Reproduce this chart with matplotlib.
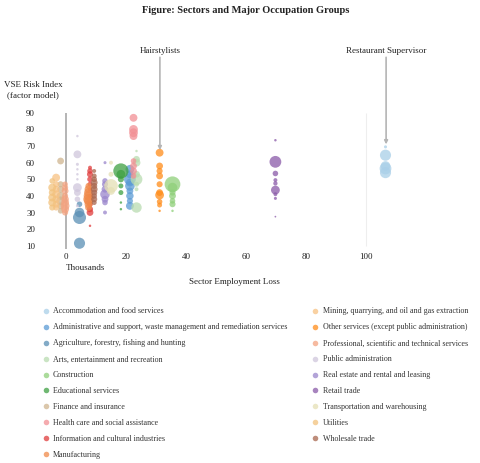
import matplotlib
matplotlib.use("Agg")
import matplotlib.pyplot as plt
from matplotlib.lines import Line2D

plt.rcParams['font.family'] = ['Liberation Serif', 'DejaVu Serif']

# sector names, colours and employment loss (thousands)
sectors = [
    "Accommodation and food services",
    "Administrative and support, waste management and remediation services",
    "Agriculture, forestry, fishing and hunting",
    "Arts, entertainment and recreation",
    "Construction",
    "Educational services",
    "Finance and insurance",
    "Health care and social assistance",
    "Information and cultural industries",
    "Manufacturing",
    "Mining, quarrying, and oil and gas extraction",
    "Other services (except public administration)",
    "Professional, scientific and technical services",
    "Public administration",
    "Real estate and rental and leasing",
    "Retail trade",
    "Transportation and warehousing",
    "Utilities",
    "Wholesale trade",
]
colors = [
    "#a9cfe8", "#5b9bd5", "#5a8fb5", "#b9dcb0", "#8fd07a", "#3fa043",
    "#cfb58f", "#f28f94", "#e03c3c", "#f08a4a", "#f7c283", "#ff8c1a",
    "#f3a381", "#cfc6dc", "#9a86cc", "#8a5aa8", "#e5e0b5", "#f2c27d",
    "#a8674f",
]
sector_loss = [106.5, 21.3, 4.5, 23.5, 35.5, 18.3, -1.8, 22.5, 8.0, 7.5,
               -3.3, 31.2, -0.3, 3.8, 13.0, 69.8, 15.0, -4.6, 9.4]

# occupation groups: VSE risk index and employment (bubble size) per sector
risk = [
    [69.5, 64.5, 58, 56.5, 54],
    [56, 53, 50, 48, 46, 43, 40, 37, 34],
    [35, 30, 27, 11.5],
    [67, 62, 60, 53, 50, 47, 44, 33],
    [47, 45, 42, 40, 37, 35, 31],
    [55, 53, 50, 46, 42, 36, 32],
    [61, 47, 44, 40, 37, 34, 31],
    [87, 80, 78, 76, 61, 58, 55, 52],
    [57, 55, 53, 50, 47, 44, 40, 35, 32, 30, 22],
    [46, 44, 42, 40, 38, 37, 35, 33],
    [51, 47, 44, 41, 38, 35, 33],
    [66, 58, 55, 52, 47, 42, 40.5, 36.5, 34.5, 31],
    [47, 45, 43, 40, 38, 36, 34, 32, 30],
    [76, 65, 59, 56, 53, 50, 45, 42, 38, 34],
    [60, 49, 47, 44, 41, 38, 36, 30],
    [73.5, 60.5, 53.5, 49.5, 47.5, 43.5, 41, 38.5, 27.5],
    [60, 53, 46, 43],
    [49, 45, 42, 39, 36, 33],
    [55, 52, 50, 48, 46, 44, 42, 40, 38, 36],
]
employment = [
    [3, 40, 30, 45, 40],
    [25, 20, 45, 20, 30, 15, 18, 12, 20],
    [10, 30, 55, 40],
    [2, 15, 20, 15, 45, 8, 5, 35],
    [80, 30, 12, 15, 10, 12, 2],
    [75, 25, 12, 8, 8, 2, 2],
    [15, 12, 15, 20, 25, 15, 10],
    [20, 25, 25, 20, 10, 15, 15, 10],
    [5, 10, 12, 10, 8, 6, 6, 10, 12, 15, 2],
    [12, 20, 25, 30, 35, 25, 20, 15],
    [20, 12, 15, 20, 18, 15, 12],
    [20, 15, 12, 15, 12, 15, 25, 10, 8, 2],
    [10, 12, 15, 12, 18, 20, 25, 20, 12],
    [2, 20, 3, 2, 2, 2, 25, 15, 10, 3],
    [3, 10, 12, 15, 30, 15, 10, 5],
    [2, 45, 10, 5, 6, 25, 5, 3, 1],
    [5, 8, 60, 20],
    [10, 20, 15, 20, 20, 12],
    [5, 8, 10, 15, 12, 15, 12, 10, 12, 8],
]

fig = plt.figure(figsize=(4.8, 4.63), dpi=100)
ax = fig.add_axes([0.0875, 0.4585, 0.75, 0.3050])

ax.vlines(0, 8, 90, color="#a8a8a8", lw=1.2, zorder=1)
ax.vlines(100, 10, 90, color="#eeeeee", lw=0.8, zorder=0)

for name, col, xv, ys, ss in zip(sectors, colors, sector_loss, risk, employment):
    ax.scatter([xv] * len(ys), ys, s=[v * 1.6 for v in ss], color=col, alpha=0.75,
               edgecolors="none", zorder=2, label=name)

ax.set_xlim(-8, 112)
ax.set_ylim(7, 92)
ax.set_xticks([0, 20, 40, 60, 80, 100])
ax.set_yticks([10, 20, 30, 40, 50, 60, 70, 80, 90])
ax.tick_params(length=0, labelsize=6.5, colors="#222222", pad=2)
ax.tick_params(axis="y", pad=5)
for s in ax.spines.values():
    s.set_visible(False)

ax.text(0, -3.4, "Thousands", fontsize=6.5, ha="left", va="center", color="#222222")
ax.text(56, -12, "Sector Employment Loss", fontsize=6.5, ha="center", va="center",
        color="#222222")
ax.text(-11, 103.5, "VSE Risk Index\n(factor model)", fontsize=6.5, ha="center",
        va="center", color="#222222", linespacing=1.3)

arrow = dict(arrowstyle="-|>", color="#b5b5b5", lw=1.2, mutation_scale=5,
             shrinkA=0, shrinkB=0)
ax.annotate("Hairstylists", xy=(31.3, 67.5), xytext=(31.3, 127.5),
            fontsize=6.5, ha="center", va="center", arrowprops=arrow,
            annotation_clip=False, color="#222222")
ax.annotate("Restaurant Supervisor", xy=(106.7, 71), xytext=(106.7, 127.5),
            fontsize=6.5, ha="center", va="center", arrowprops=arrow,
            annotation_clip=False, color="#222222")

fig.text(0.512, 0.977, "Figure: Sectors and Major Occupation Groups", fontsize=7.5,
         fontweight="bold", ha="center", va="center", color="#222222")

handles = [Line2D([0], [0], marker="o", linestyle="", markersize=4,
                  markerfacecolor=c, markeredgecolor="none", alpha=0.75)
           for c in colors]
leg = fig.legend(handles, sectors, loc="upper left", bbox_to_anchor=(0.09, 0.336),
                 ncol=2, frameon=False, fontsize=5.8, handlelength=0.6,
                 handletextpad=0.6, labelspacing=0.99, columnspacing=3.2,
                 borderpad=0, borderaxespad=0)
for t in leg.get_texts():
    t.set_color("#333333")

fig.savefig("out.png", dpi=100)
